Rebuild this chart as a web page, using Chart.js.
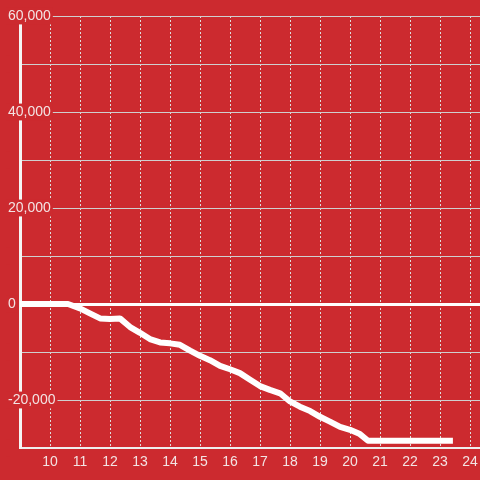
<!DOCTYPE html>
<html>
<head>
<meta charset="utf-8">
<script src="https://cdn.jsdelivr.net/npm/chart.js@4/dist/chart.umd.min.js"></script>
<style>
  html, body { margin: 0; padding: 0; background: #cc2a2f; }
  #wrap { width: 480px; height: 480px; }
</style>
</head>
<body>
<div id="wrap"><canvas id="grafico"></canvas></div>
<script>
// horas (eixo x) e saldo (eixo y)
const horas = [9, 10, 10.6, 11, 11.33, 11.67, 12, 12.33, 12.67, 13, 13.33, 13.67, 14, 14.33, 14.67,
  15, 15.33, 15.67, 16, 16.33, 16.67, 17, 17.33, 17.67, 18, 18.33, 18.67, 19, 19.33, 19.67,
  20, 20.33, 20.6, 23.43];
const saldo = [0, 0, 0, -900, -1950, -3000, -3100, -3000, -4800, -6000, -7300, -8000, -8200, -8500, -9700,
  -10800, -11700, -12900, -13600, -14400, -15800, -17100, -17900, -18600, -20300, -21400, -22300, -23500, -24500, -25600,
  -26200, -27100, -28500, -28500];
const ticksX = [10, 11, 12, 13, 14, 15, 16, 17, 18, 19, 20, 21, 22, 23, 24];
const ticksY = [-30000, -20000, -10000, 0, 10000, 20000, 30000, 40000, 50000, 60000];
const rotulosY = [60000, 40000, 20000, 0, -20000];

const vermelho = '#cc2a2f';
const corTexto = '#f3e3e3';

const pontos = horas.map(function (h, i) { return { x: h, y: saldo[i] }; });

const ctx = document.getElementById('grafico').getContext('2d');
new Chart(ctx, {
    type: 'line',
    data: {
        datasets: [{
            data: pontos,
            borderColor: '#ffffff',
            borderWidth: 6,
            borderCapStyle: 'butt',
            borderJoinStyle: 'round',
            pointRadius: 0,
            tension: 0,
            fill: false
        }]
    },
    options: {
        responsive: true,
        maintainAspectRatio: false,
        animation: false,
        layout: { padding: { top: 16, right: 0, bottom: 0, left: 0 } },
        plugins: {
            legend: { display: false },
            tooltip: { enabled: false }
        },
        scales: {
            x: {
                type: 'linear',
                z: -1,
                min: 9,
                max: 24.333,
                afterBuildTicks: function (s) {
                    s.ticks = ticksX.map(function (v) { return { value: v }; });
                },
                afterFit: function (s) {
                    s.height = 32;
                    // sem folga extra nas pontas, a area vai de 20 a 480
                    s.paddingLeft = 0;
                    s.paddingRight = 0;
                },
                grid: {
                    color: '#dddddd',
                    lineWidth: 1,
                    drawTicks: false
                },
                border: { color: '#eeeeee', width: 2, dash: [2, 2], dashOffset: 0 },
                ticks: {
                    color: corTexto,
                    padding: 6,
                    maxRotation: 0,
                    font: { family: 'Liberation Sans, Arial, sans-serif', size: 14 },
                    callback: function (v) { return String(v); }
                }
            },
            y: {
                min: -30000,
                max: 60000,
                afterBuildTicks: function (s) {
                    s.ticks = ticksY.map(function (v) { return { value: v }; });
                },
                afterFit: function (s) { s.width = 20; },
                grid: {
                    color: function (c) { return c.tick && c.tick.value === 0 ? '#ffffff' : '#cfcfcf'; },
                    lineWidth: function (c) { return c.tick && c.tick.value === 0 ? 3 : 1; },
                    drawTicks: false
                },
                border: { color: '#f5f5f5', width: 3 },
                ticks: {
                    mirror: true,
                    crossAlign: 'near',
                    padding: -12,
                    color: corTexto,
                    showLabelBackdrop: true,
                    backdropColor: vermelho,
                    backdropPadding: { x: 2, y: 0 },
                    font: { family: 'Liberation Sans, Arial, sans-serif', size: 14 },
                    callback: function (v) {
                        return rotulosY.indexOf(v) >= 0 ? v.toLocaleString('en-US') : '';
                    }
                }
            }
        }
    }
});
</script>
</body>
</html>
